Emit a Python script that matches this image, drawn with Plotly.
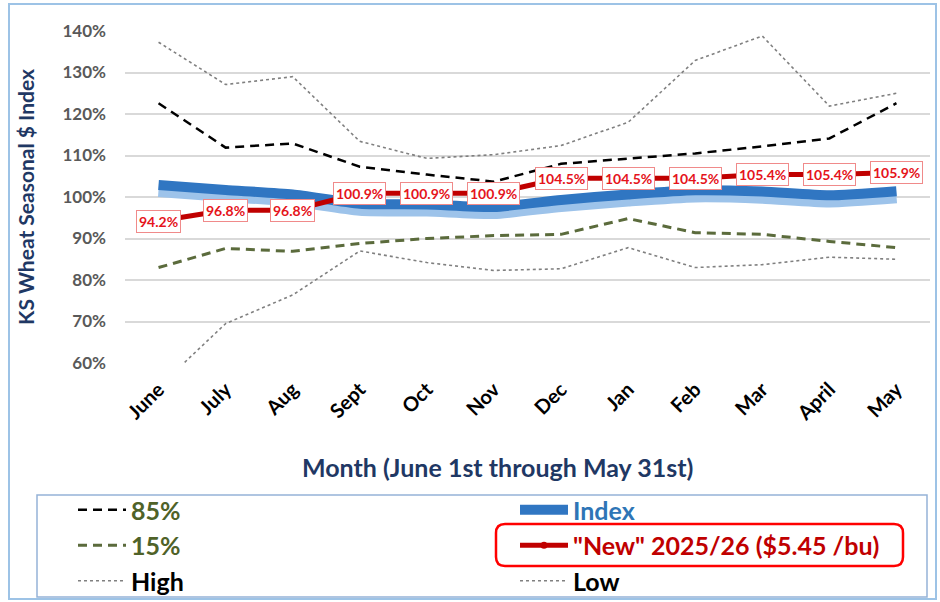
import plotly.graph_objects as go

# Marketing-year months (June 1st through May 31st)
months = ["June", "July", "Aug", "Sept", "Oct", "Nov", "Dec", "Jan", "Feb", "Mar", "April", "May"]

# Seasonal price index series, % of marketing-year average
high = [137.3, 127.1, 129.0, 113.4, 109.3, 110.2, 112.4, 118.0, 132.9, 138.8, 121.9, 125.0]
pct85 = [122.6, 111.9, 112.9, 107.3, 105.4, 103.7, 108.0, 109.3, 110.5, 112.2, 114.1, 122.6]
index = [102.9, 101.7, 100.6, 98.4, 98.2, 97.6, 99.3, 100.6, 101.6, 101.3, 100.4, 101.4]
pct15 = [83.0, 87.6, 86.9, 88.8, 90.0, 90.7, 91.0, 94.8, 91.4, 91.0, 89.3, 87.8]
low = [54.2, 69.5, 76.4, 87.0, 84.2, 82.3, 82.7, 87.8, 83.0, 83.7, 85.5, 85.0]
new_crop = [94.2, 96.8, 96.8, 100.9, 100.9, 100.9, 104.5, 104.5, 104.5, 105.4, 105.4, 105.9]

FONT = "Lato"
NAVY = "#1F3864"
RED = "#C00000"
OLIVE = "#4F6228"
Y_RANGE = [60, 140]
SHADE_OFFSET = 1.1  # lower shading of the Index band, in % points

# canvas geometry (pixels) used to convert decorations into paper coordinates
W, H = 940, 602
L, R, T, B = 125, 10, 31, 239
PW, PH = W - L - R, H - T - B


def px(x):
    return (x - L) / PW


def py(y):
    return (H - B - y) / PH


fig = go.Figure()

fig.add_trace(go.Scatter(
    x=months, y=high, name="<span style='color:#000000'>High</span>", mode="lines",
    line=dict(color="#808080", width=1.6, dash="dot"), legendrank=5))
fig.add_trace(go.Scatter(
    x=months, y=low, name="<span style='color:#000000'>Low</span>", mode="lines",
    line=dict(color="#808080", width=1.6, dash="dot"), legendrank=6))
fig.add_trace(go.Scatter(
    x=months, y=pct85, name=f"<span style='color:{OLIVE}'>85%</span>", mode="lines",
    line=dict(color="#000000", width=2.5, dash="9px,6px"), legendrank=1))
fig.add_trace(go.Scatter(
    x=months, y=pct15, name=f"<span style='color:{OLIVE}'>15%</span>", mode="lines",
    line=dict(color="#5B6B3C", width=3, dash="9px,6px"), legendrank=3))

# Index band: light shading layer drawn a little lower, dark band on top
fig.add_trace(go.Scatter(
    x=months, y=index, mode="lines", yaxis="y2", showlegend=False, hoverinfo="skip",
    line=dict(color="#9DC3EA", width=15, shape="spline", smoothing=0.6)))
fig.add_trace(go.Scatter(
    x=months, y=index, name="<span style='color:#2E75B6'>Index</span>", mode="lines",
    yaxis="y3", line=dict(color="#3076C2", width=10, shape="spline", smoothing=0.6),
    legendrank=2))

fig.add_trace(go.Scatter(
    x=months, y=new_crop, name=f"<span style='color:{RED}'>\"New\" 2025/26 ($5.45 /bu)</span>",
    mode="lines+markers", yaxis="y4", line=dict(color=RED, width=5),
    marker=dict(size=7, color=RED), legendrank=4))

# value labels centred on the new-crop points
annotations = [
    dict(x=m, y=v, xref="x", yref="y", text=f"{v:.1f}%", showarrow=False,
         font=dict(family=FONT, size=14, color="#E5141B", weight="bold"),
         bgcolor="#FFFFFF", bordercolor="#F08A8A", borderwidth=1, borderpad=2)
    for m, v in zip(months, new_crop)
]
annotations.append(dict(
    x=px(497), y=py(467), xref="paper", yref="paper", showarrow=False,
    xanchor="center", yanchor="middle",
    text="Month (June 1st through May 31st)",
    font=dict(family=FONT, size=25, color=NAVY, weight="bold")))

# rounded highlight around the new-crop legend entry
x0, x1, y0, y1, r = 496, 903, 524, 566, 9
rounded = (f"M {px(x0 + r)} {py(y0)} L {px(x1 - r)} {py(y0)} "
           f"Q {px(x1)} {py(y0)} {px(x1)} {py(y0 + r)} L {px(x1)} {py(y1 - r)} "
           f"Q {px(x1)} {py(y1)} {px(x1 - r)} {py(y1)} L {px(x0 + r)} {py(y1)} "
           f"Q {px(x0)} {py(y1)} {px(x0)} {py(y1 - r)} L {px(x0)} {py(y0 + r)} "
           f"Q {px(x0)} {py(y0)} {px(x0 + r)} {py(y0)} Z")

shapes = [
    dict(type="rect", xref="paper", yref="paper", x0=px(9), x1=px(936), y0=py(599), y1=py(4),
         line=dict(color="#9DC3E6", width=2), layer="below"),
    dict(type="rect", xref="paper", yref="paper", x0=px(37), x1=px(927), y0=py(597), y1=py(495),
         line=dict(color="#95B3D7", width=1.5), layer="below"),
    dict(type="path", xref="paper", yref="paper", path=rounded,
         line=dict(color="#FF0000", width=2.5)),
]

fig.update_layout(
    width=W, height=H,
    margin=dict(l=L, r=R, t=T, b=B, autoexpand=False),
    paper_bgcolor="#FFFFFF", plot_bgcolor="#FFFFFF",
    font=dict(family=FONT),
    showlegend=True,
    legend=dict(
        orientation="h", x=px(73), y=py(487), xanchor="left", yanchor="top",
        entrywidth=379, itemwidth=48, font=dict(family=FONT, size=25, weight="bold"),
        bgcolor="rgba(0,0,0,0)", traceorder="normal"),
    xaxis=dict(
        type="category", range=[-0.5, 11.5], showgrid=False, zeroline=False, showline=False,
        tickangle=-45, ticklabelstandoff=10,
        tickfont=dict(family=FONT, size=20, color="#000000", weight="bold")),
    yaxis=dict(
        range=Y_RANGE, dtick=10, ticksuffix="%", showgrid=True, gridcolor="#D9D9D9",
        gridwidth=1.5, zeroline=False, showline=False, ticklabelstandoff=18,
        tickfont=dict(family=FONT, size=17, color="#595959", weight="bold"),
        title=dict(text="KS Wheat Seasonal $ Index", standoff=22,
                   font=dict(family=FONT, size=21, color=NAVY, weight="bold"))),
    yaxis2=dict(range=[Y_RANGE[0] + SHADE_OFFSET, Y_RANGE[1] + SHADE_OFFSET],
                overlaying="y", visible=False),
    yaxis3=dict(range=Y_RANGE, overlaying="y", visible=False),
    yaxis4=dict(range=Y_RANGE, overlaying="y", visible=False),
    annotations=annotations,
    shapes=shapes,
)

fig.write_html("out.html")
